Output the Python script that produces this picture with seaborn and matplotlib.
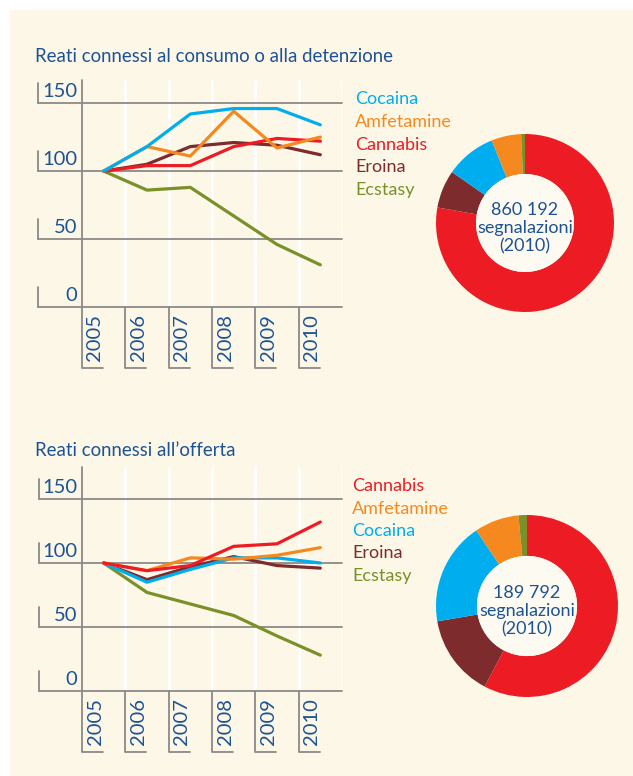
"""
Recreation of the two index charts (2005 = 100) with 2010 donut breakdowns.
"""

import matplotlib
matplotlib.use("Agg")
import matplotlib.pyplot as plt
import numpy as np
import pandas as pd
import seaborn as sns

# --- data -------------------------------------------------------------
years = ["2005", "2006", "2007", "2008", "2009", "2010"]

title_top = "Reati connessi al consumo o alla detenzione"
title_bottom = "Reati connessi all\u2019offerta"

# index values, consumption / possession
top_cocaina = [100, 118, 142, 146, 146, 134]
top_amfetamine = [100, 118, 111, 144, 117, 125]
top_cannabis = [100, 104, 104, 118, 124, 122]
top_eroina = [100, 105, 118, 121, 119, 112]
top_ecstasy = [100, 86, 88, 67, 46, 31]

# index values, supply
bot_cannabis = [100, 94, 98, 113, 115, 132]
bot_amfetamine = [100, 94, 104, 103, 106, 112]
bot_cocaina = [100, 85, 95, 104, 104, 100]
bot_eroina = [100, 87, 97, 105, 98, 96]
bot_ecstasy = [100, 77, 68, 59, 43, 28]

# donut shares (clockwise from top)
donut_labels = ["Cannabis", "Eroina", "Cocaina", "Amfetamine", "Ecstasy"]
donut_top_share = [77.8, 6.9, 9.2, 5.4, 0.7]
donut_bot_share = [57.7, 14.6, 18.3, 7.9, 1.5]
donut_top_text = "860 192\nsegnalazioni\n(2010)"
donut_bot_text = "189 792\nsegnalazioni\n(2010)"

legend_top = ["Cocaina", "Amfetamine", "Cannabis", "Eroina", "Ecstasy"]
legend_bottom = ["Cannabis", "Amfetamine", "Cocaina", "Eroina", "Ecstasy"]
yticks = [0, 50, 100, 150]

# --- style ------------------------------------------------------------
colors = {
    "Cocaina": "#00aeef",
    "Amfetamine": "#f5891f",
    "Cannabis": "#ed1c24",
    "Eroina": "#7d2b2d",
    "Ecstasy": "#7a9029",
}
BG = "#fdf7e8"
BLUE = "#1d5394"
GREY = "#8a8a88"

sns.set_style("white")
plt.rcParams["font.family"] = ["Lato", "DejaVu Sans"]

W, H = 633, 776
fig = plt.figure(figsize=(W / 100, H / 100), dpi=100, facecolor="white")
# cream panel with thin white margin top/left
fig.patches.append(plt.Rectangle((10 / W, 0), 1, 1 - 10 / H, transform=fig.transFigure,
                                 facecolor=BG, edgecolor="none", zorder=-10))


def px_axes(left, top, right, bottom):
    return fig.add_axes([left / W, 1 - bottom / H, (right - left) / W, (bottom - top) / H])


def fig_text(x, y, s, **kw):
    fig.text(x / W, 1 - y / H, s, **kw)


def line_panel(left, top, right, bottom, ymax, series, order):
    ax = px_axes(left, top, right, bottom)
    ax.set_facecolor("none")
    xmin = -0.5 - (82 - left) / ((right - 82) / 6.0)
    ax.set_xlim(xmin, 5.5)
    ax.set_ylim(0, ymax)
    ax.set_axis_off()
    ppu = (bottom - top) / ymax  # pixels per y unit
    cw = (right - 82) / 6.0      # pixels per x unit

    # white column separators
    ax.vlines(np.arange(0.5, 6.0, 1.0), 0, ymax, color="white", lw=1.8, zorder=1)
    # y axis
    ax.plot([-0.5, -0.5], [0, ymax], color=GREY, lw=1.3, zorder=2, clip_on=False)
    # horizontal grid with left brackets and labels
    for v in yticks:
        ax.plot([xmin, 5.5], [v, v], color=GREY, lw=1.3, zorder=2, clip_on=False)
        ax.plot([xmin, xmin], [v, v + 20 / ppu], color=GREY, lw=1.3, zorder=2, clip_on=False)
        ax.text(-0.5 - 5 / cw, v + 3 / ppu, str(v), color=BLUE, fontsize=14.5,
                ha="right", va="bottom")
    # year brackets and labels
    for i, yr in enumerate(years):
        x0 = i - 0.5
        ax.plot([x0, x0, x0 + 21 / cw], [0, -61 / ppu, -61 / ppu], color=GREY, lw=1.3,
                clip_on=False)
        ax.text(x0 + 13 / cw, -7 / ppu, yr, rotation=90, color=BLUE, fontsize=14.5,
                ha="center", va="top")

    rows = []
    for name in order:
        for i, val in enumerate(series[name]):
            rows.append({"year": i, "value": val, "drug": name})
    df = pd.DataFrame(rows)
    sns.lineplot(data=df, x="year", y="value", hue="drug", hue_order=order[::-1],
                 palette=colors, lw=2.3, legend=False, ax=ax, zorder=3)
    ax.set_axis_off()
    return ax


def donut(cx, cy, r, shares, text):
    ax = px_axes(cx - r, cy - r, cx + r, cy + r)
    ax.pie(shares, colors=[colors[n] for n in donut_labels], startangle=90,
           counterclock=False, radius=1.0,
           wedgeprops=dict(width=0.45, edgecolor="none"))
    ax.add_patch(plt.Circle((0, 0), 0.55, facecolor="#fdfaf1", edgecolor="none"))
    ax.set_xlim(-1, 1)
    ax.set_ylim(-1, 1)
    ax.set_aspect("equal")
    ax.text(0, -0.06, text, ha="center", va="center", color=BLUE, fontsize=13,
            linespacing=1.15)


# --- top block --------------------------------------------------------
fig_text(35, 57, title_top, color=BLUE, fontsize=13.4, va="center")
line_panel(38, 80, 342, 307, 167,
           {"Cocaina": top_cocaina, "Amfetamine": top_amfetamine,
            "Cannabis": top_cannabis, "Eroina": top_eroina, "Ecstasy": top_ecstasy},
           legend_top)
for k, name in enumerate(legend_top):
    fig_text(355, 99 + 22.8 * k, name, color=colors[name], fontsize=13, va="center")
donut(525, 223, 89, donut_top_share, donut_top_text)

# --- bottom block -----------------------------------------------------
fig_text(35, 450, title_bottom, color=BLUE, fontsize=13.4, va="center")
line_panel(39, 467, 342, 691, 175,
           {"Cocaina": bot_cocaina, "Amfetamine": bot_amfetamine,
            "Cannabis": bot_cannabis, "Eroina": bot_eroina, "Ecstasy": bot_ecstasy},
           legend_bottom)
for k, name in enumerate(legend_bottom):
    fig_text(352, 486 + 22.5 * k, name, color=colors[name], fontsize=13, va="center")
donut(527, 606, 91, donut_bot_share, donut_bot_text)

fig.savefig("out.png", dpi=100, facecolor=fig.get_facecolor())
